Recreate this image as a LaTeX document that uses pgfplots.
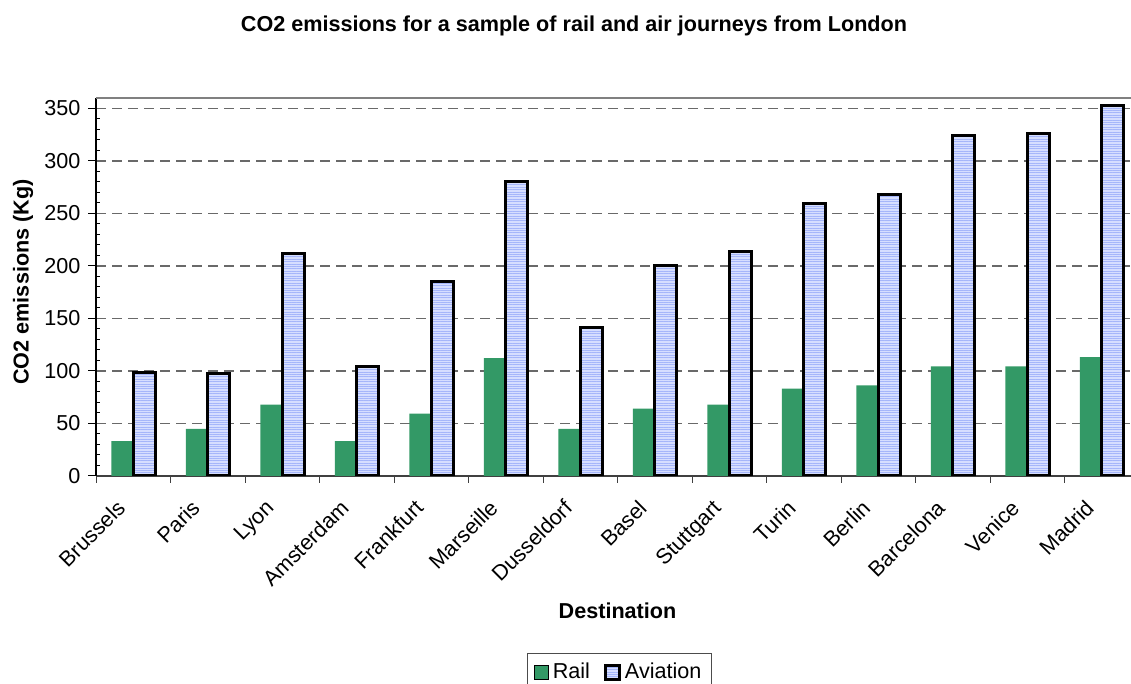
\documentclass[border=0pt]{standalone}
\usepackage{pgfplots}
\pgfplotsset{compat=1.18}
\usetikzlibrary{patterns.meta}
\usepackage{fontspec}
\setmainfont{Liberation Sans}

\definecolor{railgreen}{RGB}{51,153,102}
\definecolor{avfill}{RGB}{214,222,255}
\definecolor{avline}{RGB}{165,182,250}
\definecolor{gridgrey}{RGB}{105,105,105}
\definecolor{framegrey}{RGB}{128,128,128}

\begin{document}
\fontsize{10.8}{13}\selectfont
\begin{tikzpicture}
\begin{axis}[
  at={(48pt,104pt)}, anchor=south west,
  scale only axis, width=521.5pt, height=189pt,
  xmin=-0.5, xmax=13.5, ymin=0, ymax=360,
  axis x line*=bottom, axis y line*=left,
  x axis line style={-, draw=black!75, line width=0.6pt},
  y axis line style={-, draw=black, line width=0.6pt},
  /pgf/number format/assume math mode=true,
  ticklabel style={font=\fontsize{10.8}{13}\selectfont},
  tick align=outside,
  major tick length=4pt, minor tick length=2pt,
  tick style={black, line width=0.5pt},
  ytick={0,50,...,350}, minor y tick num=4,
  minor y tick style={xshift=2pt},
  ymajorgrids,
  major grid style={gridgrey, line width=0.55pt, dash pattern=on 5pt off 3pt},
  xtick={0,...,13},
  major x tick style={draw=none},
  xticklabels={Brussels,Paris,Lyon,Amsterdam,Frankfurt,Marseille,Dusseldorf,Basel,Stuttgart,Turin,Berlin,Barcelona,Venice,Madrid},
  xticklabel style={xshift=-8.9pt, yshift=-5.6pt, rotate=45, anchor=north east, inner sep=1pt},
  extra x ticks={-0.5,0.5,...,13.5},
  extra x tick labels={},
  extra x tick style={major tick length=3.5pt, major x tick style={draw=black!75}},
  legend columns=2,
  legend style={at={(0.4135,-0.4675)}, anchor=north west,
    draw=black!70, line width=0.5pt, inner xsep=3pt, inner ysep=3pt,
    font=\fontsize{10.8}{13}\selectfont,
    /tikz/every even column/.append style={column sep=5pt}},
  legend image code/.code={\draw[#1] (0pt,-3.5pt) rectangle (7pt,3.5pt);},
]
\draw[framegrey, line width=1pt] (rel axis cs:0,1) -- (rel axis cs:1,1);

% Rail
\addplot[ybar, bar width=0.295, bar shift=-0.1475, fill=railgreen, draw=none]
  coordinates {(0,33.3) (1,44.9) (2,68) (3,33.3) (4,59.3) (5,112.2) (6,44.9)
               (7,64.1) (8,68) (9,83.3) (10,86.2) (11,104.5) (12,104.5) (13,113.1)};
\addlegendentry{Rail}

% Aviation: pale blue, fine horizontal hatching, heavy black outline
\addplot[ybar, bar width=0.295, bar shift=0.1475, draw=none,
  preaction={fill=avfill},
  pattern={Lines[angle=0, distance=1.2pt, line width=0.4pt]}, pattern color=avline,
  postaction={draw=black, line width=1.5pt, line join=miter}]
  coordinates {(0,98.7) (1,97.8) (2,212) (3,104.5) (4,185) (5,280.4) (6,141.3)
               (7,200.6) (8,213.5) (9,259.6) (10,268.3) (11,324.7) (12,326) (13,352.9)};
\addlegendentry{Aviation}
\end{axis}

\node[font=\bfseries, anchor=base] at (287pt,326pt)
  {CO2 emissions for a sample of rail and air journeys from London};
\node[font=\bfseries, rotate=90] at (11.5pt,201pt) {CO2 emissions (Kg)};
\node[font=\bfseries, anchor=base] at (308.75pt,32.5pt) {Destination};

\pgfresetboundingbox
\useasboundingbox (0pt,0pt) rectangle (565.5pt,342pt);
\end{tikzpicture}
\end{document}
